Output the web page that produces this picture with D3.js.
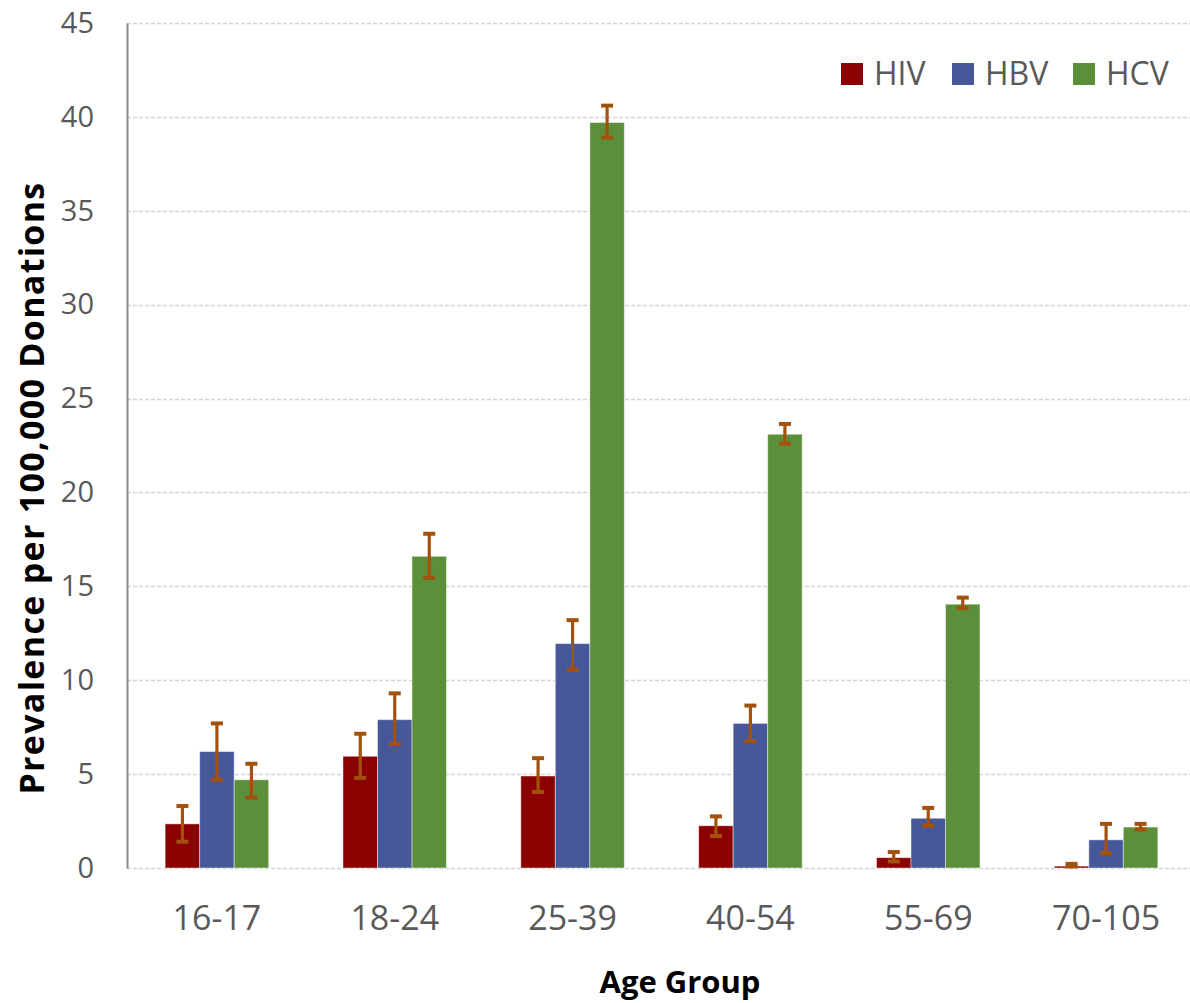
<!DOCTYPE html>
<html>
<head>
<meta charset="utf-8">
<script src="https://cdn.jsdelivr.net/npm/d3@7"></script>
<style>
  html, body { margin: 0; padding: 0; background: #fff; }
  svg { display: block; }
</style>
</head>
<body>
<svg id="chart" width="1190" height="1003"></svg>
<script>
// Prevalence of infection markers per 100,000 donations by donor age group
const categories = ["16-17", "18-24", "25-39", "40-54", "55-69", "70-105"];
const seriesNames = ["HIV", "HBV", "HCV"];
const seriesColors = ["#8B0000", "#46579A", "#5C8F3A"];

const hiv   = [2.35, 5.95, 4.90, 2.25, 0.55, 0.10];
const hivLo = [1.40, 4.80, 4.05, 1.70, 0.35, 0.08];
const hivHi = [3.30, 7.15, 5.85, 2.75, 0.85, 0.22];

const hbv   = [6.20, 7.90, 11.95, 7.70, 2.65, 1.50];
const hbvLo = [4.70, 6.60, 10.55, 6.75, 2.25, 0.80];
const hbvHi = [7.70, 9.30, 13.20, 8.65, 3.20, 2.35];

const hcv   = [4.70, 16.60, 39.70, 23.10, 14.05, 2.18];
const hcvLo = [3.75, 15.45, 38.90, 22.60, 13.85, 2.05];
const hcvHi = [5.55, 17.80, 40.60, 23.65, 14.40, 2.35];

const yTicks = [0, 5, 10, 15, 20, 25, 30, 35, 40, 45];

const values = [hiv, hbv, hcv];
const lows = [hivLo, hbvLo, hcvLo];
const highs = [hivHi, hbvHi, hcvHi];

const rows = [];
categories.forEach((c, i) => {
  seriesNames.forEach((s, j) => {
    rows.push({ cat: c, series: s, si: j, v: values[j][i], lo: lows[j][i], hi: highs[j][i] });
  });
});

const svg = d3.select("#chart");
const plotLeft = 128, plotRight = 1195, plotTop = 23, plotBottom = 868;

const x0 = d3.scaleBand().domain(categories).range([plotLeft, plotRight])
  .paddingInner(0.418).paddingOuter(0.209);
const x1 = d3.scaleBand().domain(seriesNames).range([0, x0.bandwidth()]).padding(0);
const y = d3.scaleLinear().domain([0, 45]).range([plotBottom, plotTop]);

// gridlines
svg.append("g")
  .selectAll("line")
  .data(yTicks)
  .join("line")
  .attr("x1", plotLeft - 1).attr("x2", 1190)
  .attr("y1", d => Math.round(y(d)) + 0.5).attr("y2", d => Math.round(y(d)) + 0.5)
  .attr("stroke", "#d4d4d4")
  .attr("stroke-width", 1.5)
  .attr("stroke-dasharray", "4,2");

// y axis
const yAxis = svg.append("g")
  .attr("transform", `translate(${plotLeft - 1},0)`)
  .call(d3.axisLeft(y).tickValues(yTicks).tickSize(0).tickPadding(33));
yAxis.select(".domain").attr("stroke", "#8c8c8c").attr("stroke-width", 2);
yAxis.selectAll("text")
  .attr("font-family", "'Open Sans', sans-serif")
  .attr("font-size", 29)
  .attr("fill", "#595959");

// bars
svg.append("g")
  .selectAll("rect")
  .data(rows)
  .join("rect")
  .attr("x", d => x0(d.cat) + x1(d.series))
  .attr("y", d => y(d.v))
  .attr("width", x1.bandwidth())
  .attr("height", d => y(0) - y(d.v))
  .attr("fill", d => seriesColors[d.si])
  .attr("stroke", "rgba(255,255,255,0.45)")
  .attr("stroke-width", 1);

// error bars
const errColor = "#A3520E";
const capW = 12;
const eb = svg.append("g");
eb.selectAll("line.stem")
  .data(rows)
  .join("line")
  .attr("class", "stem")
  .attr("x1", d => x0(d.cat) + x1(d.series) + x1.bandwidth() / 2)
  .attr("x2", d => x0(d.cat) + x1(d.series) + x1.bandwidth() / 2)
  .attr("y1", d => y(d.lo))
  .attr("y2", d => y(d.hi))
  .attr("stroke", errColor)
  .attr("stroke-width", 3.2);
["lo", "hi"].forEach(k => {
  eb.selectAll("line.cap-" + k)
    .data(rows)
    .join("line")
    .attr("class", "cap-" + k)
    .attr("x1", d => x0(d.cat) + x1(d.series) + x1.bandwidth() / 2 - capW / 2)
    .attr("x2", d => x0(d.cat) + x1(d.series) + x1.bandwidth() / 2 + capW / 2)
    .attr("y1", d => y(d[k]))
    .attr("y2", d => y(d[k]))
    .attr("stroke", errColor)
    .attr("stroke-width", 4);
});

// x axis labels
const xAxis = svg.append("g")
  .attr("transform", `translate(0,${plotBottom})`)
  .call(d3.axisBottom(x0).tickSize(0).tickPadding(38));
xAxis.select(".domain").remove();
xAxis.selectAll("text")
  .attr("font-family", "'Open Sans', sans-serif")
  .attr("font-size", 34)
  .attr("fill", "#595959");

// axis titles
svg.append("text")
  .attr("x", 680).attr("y", 993)
  .attr("text-anchor", "middle")
  .attr("font-family", "'Open Sans', sans-serif")
  .attr("font-weight", "bold")
  .attr("font-size", 31)
  .attr("fill", "#000")
  .text("Age Group");

svg.append("text")
  .attr("transform", "translate(44,488) rotate(-90)")
  .attr("text-anchor", "middle")
  .attr("font-family", "'Open Sans', sans-serif")
  .attr("font-weight", "bold")
  .attr("font-size", 34)
  .attr("letter-spacing", 1.3)
  .attr("fill", "#000")
  .text("Prevalence per 100,000 Donations");

// legend
const legendX = [841, 952, 1073];
const legend = svg.append("g");
seriesNames.forEach((s, j) => {
  legend.append("rect")
    .attr("x", legendX[j]).attr("y", 63)
    .attr("width", 22).attr("height", 22)
    .attr("fill", seriesColors[j]);
  legend.append("text")
    .attr("x", legendX[j] + 33).attr("y", 85)
    .attr("font-family", "'Open Sans', sans-serif")
    .attr("font-size", 32)
    .attr("fill", "#595959")
    .text(s);
});
</script>
</body>
</html>
